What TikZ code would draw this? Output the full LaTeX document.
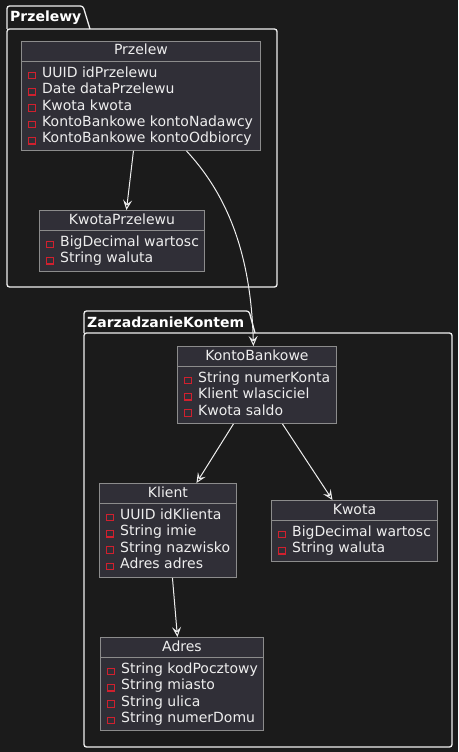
\documentclass[tikz,border=0pt]{standalone}
\usepackage{fontspec}
\setmainfont{DejaVu Sans}
\usetikzlibrary{arrows.meta}
\definecolor{bg}{HTML}{1B1B1B}
\definecolor{cfill}{HTML}{302F37}
\definecolor{cborder}{HTML}{8C8C8C}
\definecolor{ctext}{HTML}{EEEEEE}
\definecolor{pkline}{HTML}{F0F0F0}
\definecolor{icon}{HTML}{D0202E}
\tikzset{
  classbox/.style={draw=cborder, fill=cfill, line width=0.9pt, inner sep=0pt},
  sepline/.style={draw=cborder, line width=0.9pt},
  titletext/.style={text=ctext, inner sep=0pt, font=\fontsize{14}{16}\selectfont, text height=10pt, text depth=3pt},
  attr/.style={text=ctext, inner sep=0pt, font=\fontsize{14}{16}\selectfont, text height=10pt, text depth=3pt, anchor=west},
  iconbox/.style={draw=icon, line width=1.2pt, minimum size=6.5pt, inner sep=0pt},
  pkg/.style={draw=pkline, line width=1.3pt, rounded corners=2.5pt},
  pkglabel/.style={text=white, inner sep=0pt, anchor=west, font=\bfseries\fontsize{14}{16}\selectfont},
  assoc/.style={draw=ctext, line width=1pt, -{Stealth[length=10pt, width=9pt, inset=4pt, open, fill=bg]}},
}
\newcommand\umlclass[7]{%
  \pgfmathsetmacro\uw{#4-#2}\pgfmathsetmacro\uh{#5-#3}%
  \node[classbox, minimum width=\uw pt, minimum height=\uh pt, anchor=north west] (#1) at (#2,#3) {};
  \draw[sepline] ([yshift=-20.5pt]#1.north west) -- ([yshift=-20.5pt]#1.north east);
  \node[titletext] (#1-t) at ([yshift=-10.5pt]#1.north) {#6};
  \foreach \a [count=\i] in {#7} {
    \node[attr] (#1-a\i) at ([xshift=21pt, yshift={-33pt-(\i-1)*16.3pt}]#1.north west) {\a};
    \node[iconbox] (#1-i\i) at ([xshift=11pt, yshift={-34.5pt-(\i-1)*16.3pt}]#1.north west) {};
  }
}
\begin{document}
\begin{tikzpicture}[x=1pt, y=-1pt]
\fill[bg] (0,0) rectangle (458,752);
\useasboundingbox (0,0) rectangle (458,752);
% packages
\draw[pkg] (7,29) -- (7,6) -- (83,6) -- (90,29);
\draw[pkg] (7,29) rectangle (277,287);
\node[pkglabel] (pk1) at (10,18) {Przelewy};
\draw[pkg] (84,333) -- (84,311) -- (249,311) -- (255,333);
\draw[pkg] (84,333) rectangle (452,747);
\node[pkglabel] (pk2) at (87,322) {ZarzadzanieKontem};
% classes
\umlclass{przelew}{21}{41}{260}{150}{Przelew}{UUID idPrzelewu,Date dataPrzelewu,Kwota kwota,KontoBankowe kontoNadawcy,KontoBankowe kontoOdbiorcy}
\umlclass{kwotap}{39}{210}{204}{271}{KwotaPrzelewu}{BigDecimal wartosc,String waluta}
\umlclass{konto}{177}{346}{336}{423}{KontoBankowe}{String numerKonta,Klient wlasciciel,Kwota saldo}
\umlclass{klient}{99}{483}{236}{577}{Klient}{UUID idKlienta,String imie,String nazwisko,Adres adres}
\umlclass{kwota}{271}{500}{437}{561}{Kwota}{BigDecimal wartosc,String waluta}
\umlclass{adres}{100}{637}{263}{730}{Adres}{String kodPocztowy,String miasto,String ulica,String numerDomu}
% connectors
\draw[assoc] ([xshift=-7.5pt]przelew.south) -- ([xshift=4.5pt]kwotap.north);
\draw[assoc] ([xshift=45.5pt]przelew.south) .. controls (232,200) and (251,262) .. ([xshift=-3.5pt]konto.north);
\draw[assoc] ([xshift=-23.5pt]konto.south) -- ([xshift=28.5pt]klient.north);
\draw[assoc] ([xshift=25.5pt]konto.south) -- ([xshift=-22pt]kwota.north);
\draw[assoc] ([xshift=4.5pt]klient.south) -- ([xshift=-4.5pt]adres.north);
\end{tikzpicture}
\end{document}
